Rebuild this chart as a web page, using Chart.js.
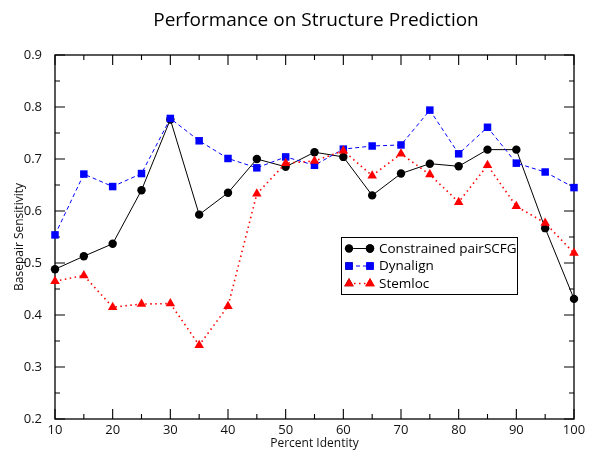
<!DOCTYPE html>
<html>
<head>
<meta charset="utf-8">
<script src="https://cdn.jsdelivr.net/npm/chart.js@4"></script>
<style>
html,body{margin:0;padding:0;background:#fff;}
canvas{display:block;}
</style>
</head>
<body>
<canvas id="c" width="589" height="459"></canvas>
<script>
const percentIdentity = [10,15,20,25,30,35,40,45,50,55,60,65,70,75,80,85,90,95,100];
const constrainedPairSCFG = [0.488,0.513,0.537,0.640,0.776,0.593,0.635,0.700,0.685,0.713,0.704,0.630,0.672,0.691,0.686,0.718,0.718,0.567,0.431];
const dynalign = [0.554,0.671,0.647,0.672,0.778,0.735,0.701,0.683,0.704,0.688,0.719,0.725,0.727,0.794,0.710,0.761,0.692,0.675,0.645];
const stemloc = [0.465,0.476,0.415,0.421,0.422,0.342,0.417,0.633,0.692,0.696,0.716,0.668,0.710,0.670,0.617,0.688,0.609,0.577,0.519];
const seriesNames = ['Constrained pairSCFG','Dynalign','Stemloc'];
const xTickLabels = [10,20,30,40,50,60,70,80,90,100];
const xMinorTicks = [15,25,35,45,55,65,75,85,95];
const yTickLabels = [0.2,0.3,0.4,0.5,0.6,0.7,0.8,0.9];
const yMinorTicks = [0.25,0.35,0.45,0.55,0.65,0.75,0.85];
const chartTitle = 'Performance on Structure Prediction';
const xTitle = 'Percent Identity';
const yTitle = 'Basepair Sensitivity';

const FONT = "'Open Sans', 'DejaVu Sans', sans-serif";
const toXY = arr => percentIdentity.map((x,i)=>({x:x,y:arr[i]}));

const styles = [
  {color:'#000000', dash:[], width:1, point:'circle', radius:4.2},
  {color:'#0000ff', dash:[4,3], width:1, point:'rect', radius:5.3},
  {color:'#ff0000', dash:[1.5,3.5], width:1.6, point:'triangle', radius:5.5}
];

const framePlugin = {
  id:'frame',
  beforeDatasetsDraw(chart){
    const {ctx, chartArea:a, scales:{x,y}} = chart;
    ctx.save();
    ctx.strokeStyle = '#000';
    ctx.lineWidth = 1.3;
    ctx.strokeRect(a.left, a.top, a.right-a.left, a.bottom-a.top);
    ctx.lineWidth = 1.1;
    ctx.beginPath();
    const tx = (v,len)=>{const p=x.getPixelForValue(v); ctx.moveTo(p,a.bottom); ctx.lineTo(p,a.bottom-len); ctx.moveTo(p,a.top); ctx.lineTo(p,a.top+len);};
    const ty = (v,len)=>{const p=y.getPixelForValue(v); ctx.moveTo(a.left,p); ctx.lineTo(a.left+len,p); ctx.moveTo(a.right,p); ctx.lineTo(a.right-len,p);};
    xTickLabels.forEach(v=>tx(v,10));
    xMinorTicks.forEach(v=>tx(v,5));
    yTickLabels.forEach(v=>ty(v,10));
    yMinorTicks.forEach(v=>ty(v,5));
    ctx.stroke();
    ctx.restore();
  },
  afterDraw(chart){
    const {ctx, chartArea:a} = chart;
    ctx.save();
    // title
    ctx.fillStyle = '#000';
    ctx.font = '19px ' + FONT;
    ctx.textAlign = 'center';
    ctx.textBaseline = 'alphabetic';
    ctx.fillText(chartTitle, (a.left+a.right)/2 + 1.5, 26);
    // legend
    const bx = 341, by = 237, bw = 176, bh = 57;
    ctx.fillStyle = '#fff';
    ctx.fillRect(bx, by, bw, bh);
    ctx.strokeStyle = '#000';
    ctx.lineWidth = 1;
    ctx.strokeRect(bx+0.5, by+0.5, bw, bh);
    const rows = [248.5, 266, 283.5];
    seriesNames.forEach((name,i)=>{
      const s = styles[i];
      const yy = rows[i];
      ctx.strokeStyle = s.color;
      ctx.lineWidth = s.width;
      ctx.setLineDash(s.dash);
      ctx.beginPath();
      ctx.moveTo(349, yy); ctx.lineTo(370, yy);
      ctx.stroke();
      ctx.setLineDash([]);
      [349,370].forEach(px=>{
        Chart.helpers.drawPoint(ctx, {pointStyle:s.point, radius:s.radius, rotation:0, borderWidth:0}, px, yy);
        ctx.fillStyle = s.color;
        ctx.fill();
      });
      ctx.fillStyle = '#000';
      ctx.font = '13.5px ' + FONT;
      ctx.textAlign = 'left';
      ctx.textBaseline = 'middle';
      ctx.fillText(name, 379, yy+0.5);
    });
    ctx.restore();
  }
};

const datasets = [constrainedPairSCFG, dynalign, stemloc].map((arr,i)=>({
  label: seriesNames[i],
  data: toXY(arr),
  borderColor: styles[i].color,
  backgroundColor: styles[i].color,
  borderWidth: styles[i].width,
  borderDash: styles[i].dash,
  pointStyle: styles[i].point,
  pointRadius: styles[i].radius,
  pointBorderWidth: 0,
  pointBackgroundColor: styles[i].color,
  tension: 0,
  fill: false,
  clip: false,
  order: 3 - i
}));

new Chart(document.getElementById('c'), {
  type: 'line',
  data: { datasets },
  options: {
    responsive: false,
    devicePixelRatio: 1,
    animation: false,
    layout: { padding: { top: 55, right: 15, left: 0, bottom: 0 } },
    plugins: { legend: { display: false }, title: { display: false }, tooltip: { enabled: false } },
    scales: {
      x: {
        type: 'linear', min: 10, max: 100,
        afterBuildTicks: s => { s.ticks = xTickLabels.map(v=>({value:v})); },
        afterFit: s => { s.height = 40; },
        grid: { display: false },
        border: { display: false },
        ticks: { padding: -5, color: '#111', font: { family: FONT, size: 13 }, maxRotation: 0, callback: v => String(v) },
        title: { display: true, text: xTitle, color: '#111', font: { family: FONT, size: 12 }, padding: { top: 0, bottom: 8 } }
      },
      y: {
        type: 'linear', min: 0.2, max: 0.9,
        afterBuildTicks: s => { s.ticks = yTickLabels.map(v=>({value:v})); },
        afterFit: s => { s.width = 55; },
        grid: { display: false },
        border: { display: false },
        ticks: { padding: 5, color: '#111', font: { family: FONT, size: 13 }, callback: v => v.toFixed(1) },
        title: { display: true, text: yTitle, color: '#111', font: { family: FONT, size: 12 }, padding: { top: 12, bottom: 0 } }
      }
    }
  },
  plugins: [framePlugin]
});
</script>
</body>
</html>
